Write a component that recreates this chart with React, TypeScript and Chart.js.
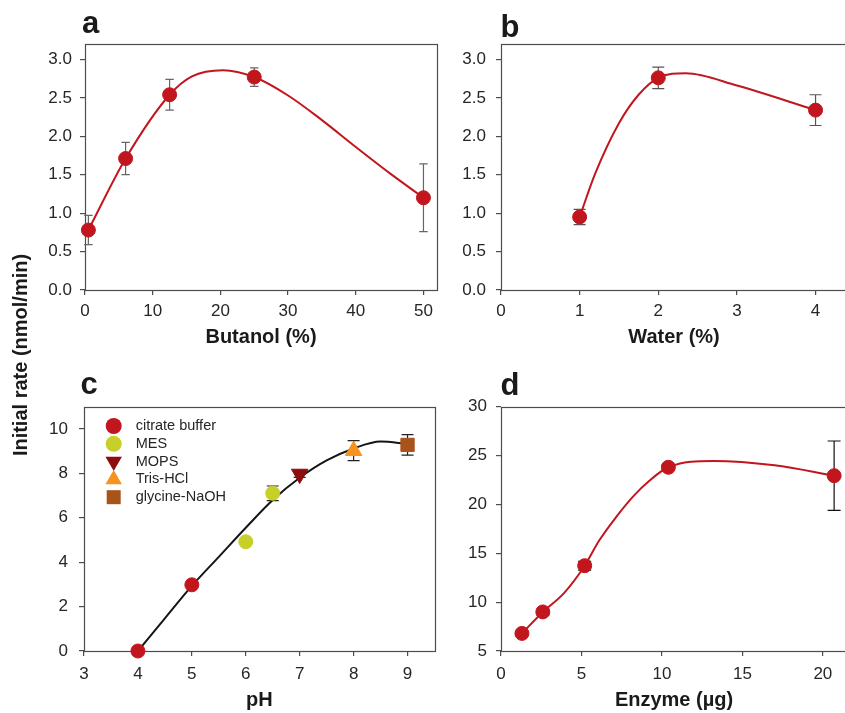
import React, { useEffect, useRef } from "react";
import { Chart, registerables } from "chart.js";

Chart.register(...registerables);

const FONT = "'Liberation Sans', Arial, Helvetica, sans-serif";
Chart.defaults.font.family = FONT;

const RED = "#c1161e";
const TEXT = "#262626";
const AXIS = "#4d4d4d";

// ---------- Panel a: butanol ----------
const butanolX = [0.5, 6, 12.5, 25, 50];
const butanolRate = [0.78, 1.71, 2.54, 2.77, 1.2];
const butanolErr = [0.19, 0.21, 0.2, 0.12, 0.44];
const butanolFitX = [0.5, 6, 12.5, 15.8, 20.4, 25, 30, 35, 40, 45, 50];
const butanolFitY = [0.78, 1.71, 2.54, 2.78, 2.86, 2.77, 2.53, 2.21, 1.86, 1.52, 1.2];

// ---------- Panel b: water ----------
const waterX = [1, 2, 4];
const waterRate = [0.95, 2.76, 2.34];
const waterErr = [0.1, 0.14, 0.2];
const waterFitX = [1, 1.2, 1.5, 1.75, 2, 2.35, 3, 4];
const waterFitY = [0.95, 1.52, 2.17, 2.54, 2.76, 2.82, 2.66, 2.34];

// ---------- Panel c: pH ----------
const citrateX = [4, 5];
const citrateRate = [0, 2.98];
const citrateErr = [0, 0];
const mesX = [6, 6.5];
const mesRate = [4.92, 7.1];
const mesErr = [0.05, 0.33];
const mopsX = [7];
const mopsRate = [7.97];
const mopsErr = [0.15];
const trisX = [8];
const trisRate = [9.02];
const trisErr = [0.45];
const glycineX = [9];
const glycineRate = [9.28];
const glycineErr = [0.46];
const phFitX = [4, 4.5, 5, 5.5, 6, 6.5, 7, 7.5, 8, 8.5, 9];
const phFitY = [0, 1.47, 2.93, 4.24, 5.55, 6.8, 7.8, 8.58, 9.12, 9.43, 9.33];

// ---------- Panel d: enzyme ----------
const enzymeX = [1.3, 2.6, 5.2, 10.4, 20.7];
const enzymeRate = [6.8, 9.0, 13.73, 23.8, 22.94];
const enzymeErr = [0.2, 0.3, 0.45, 0.3, 3.55];
const enzymeFitX = [1.3, 2.6, 3.9, 5.2, 6.1, 7.2, 8.2, 9.2, 10.4, 13.2, 17, 20.7];
const enzymeFitY = [6.8, 9.0, 10.9, 13.73, 16.3, 18.8, 20.8, 22.4, 23.8, 24.45, 24.0, 22.94];

// ---------- labels ----------
const panelLetters = ["a", "b", "c", "d"];
const xTitles = ["Butanol (%)", "Water (%)", "pH", "Enzyme (\u00b5g)"];
const yTitle = "Initial rate (nmol/min)";
const bufferLabels = ["citrate buffer", "MES", "MOPS", "Tris-HCl", "glycine-NaOH"];

function pts(xs: number[], ys: number[]) {
  return xs.map((x, i) => ({ x, y: ys[i] }));
}

function drawLegendShape(ctx: CanvasRenderingContext2D, shape: string, x: number, y: number) {
  ctx.beginPath();
  if (shape === "circle") {
    ctx.arc(x, y, 8, 0, Math.PI * 2);
  } else if (shape === "triUp" || shape === "triDown") {
    const r = 9.5;
    const s = shape === "triUp" ? 1 : -1;
    ctx.moveTo(x, y - s * r);
    ctx.lineTo(x + r * Math.sin((2 * Math.PI) / 3), y + s * r * 0.5);
    ctx.lineTo(x - r * Math.sin((2 * Math.PI) / 3), y + s * r * 0.5);
    ctx.closePath();
  } else {
    ctx.rect(x - 7, y - 7, 14, 14);
  }
  ctx.fill();
}

const framePlugin = {
  id: "frameErr",
  beforeDatasetsDraw(chart: any) {
    const { ctx, chartArea, scales } = chart;
    const { left, top, right, bottom } = chartArea;
    ctx.save();
    ctx.strokeStyle = AXIS;
    ctx.lineWidth = 1.2;
    ctx.strokeRect(Math.round(left) + 0.5, Math.round(top) + 0.5, Math.round(right) - Math.round(left), Math.round(bottom) - Math.round(top));
    const xs = scales.x;
    const ys = scales.y;
    chart.data.datasets.forEach((ds: any) => {
      const errs = ds.errors as number[] | undefined;
      if (!errs) return;
      ctx.strokeStyle = ds.errorColor || "#555";
      ctx.lineWidth = 1.2;
      const cap = ds.capHalf || 5;
      ds.data.forEach((p: any, i: number) => {
        const e = errs[i];
        if (!e) return;
        const px = xs.getPixelForValue(p.x);
        const t = ys.getPixelForValue(p.y + e);
        const b = ys.getPixelForValue(p.y - e);
        ctx.beginPath();
        ctx.moveTo(px, t);
        ctx.lineTo(px, b);
        ctx.moveTo(px - cap, t);
        ctx.lineTo(px + cap, t);
        ctx.moveTo(px - cap, b);
        ctx.lineTo(px + cap, b);
        ctx.stroke();
      });
    });
    ctx.restore();
  },
  afterDatasetsDraw(chart: any) {
    const items = chart.data.datasets.filter((d: any) => d.legendShape);
    if (!items.length) return;
    const { ctx, chartArea } = chart;
    ctx.save();
    items.forEach((d: any, i: number) => {
      const cx = chartArea.left + 29.7;
      const cy = chartArea.top + 19.3 + i * 17.8;
      ctx.fillStyle = d.pointBackgroundColor;
      drawLegendShape(ctx, d.legendShape, cx, cy);
      ctx.fillStyle = TEXT;
      ctx.font = `14.5px ${FONT}`;
      ctx.textBaseline = "middle";
      ctx.textAlign = "left";
      ctx.fillText(d.label, chartArea.left + 51.7, cy);
    });
    ctx.restore();
  },
};

type Spec = {
  left: number;
  top: number;
  w: number;
  h: number;
  area: { left: number; top: number; right: number; bottom: number };
  xTitleCenter: number;
  xTitle: string;
  x: { min: number; max: number; step: number; pad: number };
  y: { min: number; max: number; step: number; pad: number; dec: number };
  datasets: any[];
};

function pointSet(label: string, xs: number[], ys: number[], errs: number[], color: string, style: string, radius: number, errorColor: string, capHalf: number, extra: any = {}) {
  return {
    type: "line",
    label,
    data: pts(xs, ys),
    showLine: false,
    pointStyle: style,
    pointRadius: radius,
    pointHoverRadius: radius,
    pointBackgroundColor: color,
    pointBorderColor: color,
    pointBorderWidth: 1,
    backgroundColor: color,
    borderColor: color,
    clip: false,
    errors: errs,
    errorColor,
    capHalf,
    ...extra,
  };
}

function fitSet(xs: number[], ys: number[], color: string) {
  return {
    type: "line",
    label: "fit",
    data: pts(xs, ys),
    borderColor: color,
    borderWidth: 2,
    pointRadius: 0,
    pointHoverRadius: 0,
    fill: false,
    cubicInterpolationMode: "monotone",
    clip: false,
  };
}

function makeConfig(s: Spec) {
  const titleLH = 20 * 1.2;
  const xH = s.xTitleCenter - s.area.bottom + titleLH / 2;
  const tickFont = { size: 17 };
  const grid = { display: true, drawOnChartArea: false, drawTicks: true, tickLength: 5, color: AXIS, lineWidth: 1.2 };
  return {
    type: "line",
    data: { datasets: s.datasets },
    options: {
      responsive: false,
      animation: false,
      events: [],
      layout: {
        padding: { left: 0, top: s.area.top, right: s.w - s.area.right, bottom: s.h - s.area.bottom - xH },
      },
      plugins: { legend: { display: false }, tooltip: { enabled: false } },
      scales: {
        x: {
          type: "linear",
          min: s.x.min,
          max: s.x.max,
          afterFit: (sc: any) => {
            sc.height = xH;
          },
          ticks: { stepSize: s.x.step, includeBounds: false, padding: s.x.pad, font: tickFont, color: TEXT, maxRotation: 0, autoSkip: false },
          grid,
          border: { display: false },
          title: { display: true, text: s.xTitle, font: { size: 20, weight: "bold" }, color: "#1a1a1a", padding: { top: 0, bottom: 0 } },
        },
        y: {
          type: "linear",
          min: s.y.min,
          max: s.y.max,
          afterFit: (sc: any) => {
            sc.width = s.area.left;
          },
          ticks: {
            stepSize: s.y.step,
            includeBounds: false,
            padding: s.y.pad,
            font: tickFont,
            color: TEXT,
            callback: (v: any) => Number(v).toFixed(s.y.dec),
          },
          grid,
          border: { display: false },
        },
      },
    },
    plugins: [framePlugin],
  };
}

const specs: Spec[] = [
  {
    left: 0,
    top: 0,
    w: 445,
    h: 360,
    area: { left: 85, top: 44, right: 440, bottom: 290 },
    xTitleCenter: 337.5,
    xTitle: xTitles[0],
    x: { min: 0, max: 52, step: 10, pad: 6 },
    y: { min: 0, max: 3.2, step: 0.5, pad: 8, dec: 1 },
    datasets: [
      pointSet("Butanol", butanolX, butanolRate, butanolErr, RED, "circle", 7, "#666", 4.2),
      fitSet(butanolFitX, butanolFitY, RED),
    ],
  },
  {
    left: 445,
    top: 0,
    w: 410,
    h: 360,
    area: { left: 56, top: 44, right: 405, bottom: 290 },
    xTitleCenter: 337.5,
    xTitle: xTitles[1],
    x: { min: 0, max: 4.4, step: 1, pad: 6 },
    y: { min: 0, max: 3.2, step: 0.5, pad: 10, dec: 1 },
    datasets: [
      pointSet("Water", waterX, waterRate, waterErr, RED, "circle", 7, "#555", 6),
      fitSet(waterFitX, waterFitY, RED),
    ],
  },
  {
    left: 0,
    top: 360,
    w: 445,
    h: 353,
    area: { left: 84, top: 46.7, right: 439.3, bottom: 291 },
    xTitleCenter: 340,
    xTitle: xTitles[2],
    x: { min: 3, max: 9.5, step: 1, pad: 8 },
    y: { min: 0, max: 11, step: 2, pad: 11, dec: 0 },
    datasets: [
      pointSet(bufferLabels[0], citrateX, citrateRate, citrateErr, "#c1161e", "circle", 7, "#222", 6, { legendShape: "circle" }),
      pointSet(bufferLabels[1], mesX, mesRate, mesErr, "#c6d028", "circle", 7, "#222", 6, { legendShape: "circle" }),
      pointSet(bufferLabels[2], mopsX, mopsRate, mopsErr, "#8e0b0e", "triangle", 9.5, "#222", 6, { legendShape: "triDown", pointRotation: 180 }),
      pointSet(bufferLabels[3], trisX, trisRate, trisErr, "#f7921e", "triangle", 9.5, "#222", 6, { legendShape: "triUp" }),
      pointSet(bufferLabels[4], glycineX, glycineRate, glycineErr, "#a8531a", "rect", 9.4, "#222", 6, { legendShape: "rect" }),
      fitSet(phFitX, phFitY, "#151515"),
    ],
  },
  {
    left: 445,
    top: 360,
    w: 410,
    h: 353,
    area: { left: 56, top: 46.7, right: 403, bottom: 291 },
    xTitleCenter: 340,
    xTitle: xTitles[3],
    x: { min: 0, max: 21.5, step: 5, pad: 8 },
    y: { min: 5, max: 30, step: 5, pad: 9, dec: 0 },
    datasets: [
      pointSet("Enzyme", enzymeX, enzymeRate, enzymeErr, RED, "circle", 7, "#111", 6.5),
      fitSet(enzymeFitX, enzymeFitY, RED),
    ],
  },
];

function Panel({ spec }: { spec: Spec }) {
  const ref = useRef<HTMLCanvasElement | null>(null);
  useEffect(() => {
    if (!ref.current) return;
    const chart = new Chart(ref.current, makeConfig(spec) as any);
    return () => chart.destroy();
  }, [spec]);
  return (
    <canvas
      ref={ref}
      width={spec.w}
      height={spec.h}
      style={{ position: "absolute", left: spec.left, top: spec.top, width: spec.w, height: spec.h }}
    />
  );
}

const letterPos = [
  { left: 82, top: 7 },
  { left: 500.5, top: 11 },
  { left: 80.4, top: 368 },
  { left: 500.4, top: 368.8 },
];

export default function App() {
  return (
    <div
      style={{
        position: "absolute",
        left: 0,
        top: 0,
        width: 845,
        height: 713,
        overflow: "hidden",
        background: "#fff",
        fontFamily: FONT,
      }}
    >
      {specs.map((s, i) => (
        <Panel key={i} spec={s} />
      ))}
      {panelLetters.map((t, i) => (
        <div
          key={t}
          style={{
            position: "absolute",
            left: letterPos[i].left,
            top: letterPos[i].top,
            font: `bold 31px ${FONT}`,
            lineHeight: "31px",
            color: "#1a1a1a",
          }}
        >
          {t}
        </div>
      ))}
      <div
        style={{
          position: "absolute",
          left: 20.5 - 150,
          top: 355 - 12,
          width: 300,
          height: 24,
          lineHeight: "24px",
          textAlign: "center",
          transform: "rotate(-90deg)",
          font: `bold 20px ${FONT}`,
          color: "#1a1a1a",
          whiteSpace: "nowrap",
        }}
      >
        {yTitle}
      </div>
    </div>
  );
}
